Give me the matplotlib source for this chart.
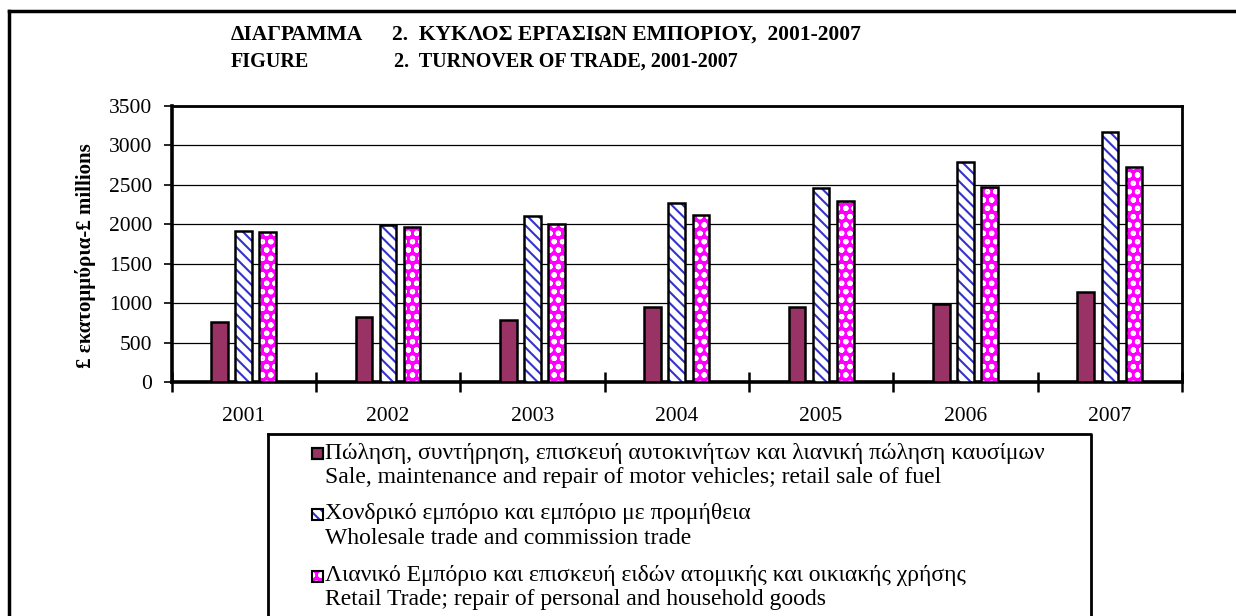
import numpy as np
import matplotlib
matplotlib.use("Agg")
import matplotlib.pyplot as plt
from matplotlib.patches import Rectangle
from matplotlib.lines import Line2D

plt.rcParams['font.family'] = ['Liberation Serif', 'DejaVu Serif']
plt.rcParams['hatch.linewidth'] = 1.5

# --- veriler ---
years = ["2001", "2002", "2003", "2004", "2005", "2006", "2007"]
motor = [767, 818, 780, 950, 950, 992, 1145]
wholesale = [1912, 1997, 2099, 2273, 2459, 2790, 3172]
retail = [1905, 1963, 2006, 2120, 2290, 2477, 2723]
yticks = [0, 500, 1000, 1500, 2000, 2500, 3000, 3500]

legend_lines = [
    ("Πώληση, συντήρηση, επισκευή αυτοκινήτων και λιανική πώληση καυσίμων",
     "Sale, maintenance and repair of motor vehicles; retail sale of fuel"),
    ("Χονδρικό εμπόριο και εμπόριο με προμήθεια",
     "Wholesale trade and commission trade"),
    ("Λιανικό Εμπόριο και επισκευή ειδών ατομικής και οικιακής χρήσης",
     "Retail Trade; repair of personal and household goods"),
]

W, H = 1236, 616
def fx(px):
    return px / W
def fy(py):
    return 1 - py / H

fig = plt.figure(figsize=(12.36, 6.16), dpi=100)
ax = fig.add_axes([fx(171.5), fy(382), fx(1182) - fx(171.5), fy(106) - fy(382)])

x = np.arange(len(years))
off = 0.167
w = 0.115

# seri 1: düz bordo
ax.bar(x - off, motor, w, color="#993366", edgecolor="black", lw=1.8, zorder=3)
# seri 2: mavi çizgili
ax.bar(x, wholesale, w, color="white", edgecolor="#3333cc", hatch="\\\\\\", lw=0, zorder=3)
ax.bar(x, wholesale, w, fill=False, edgecolor="black", lw=1.8, zorder=4)
# seri 3: pembe desenli
ax.bar(x + off, retail, w, color="#ff00ff", edgecolor="white", hatch="oo", lw=0, zorder=3)
ax.bar(x + off, retail, w, fill=False, edgecolor="black", lw=1.8, zorder=4)

ax.set_xlim(-0.5, len(years) - 0.5)
ax.set_ylim(0, 3500)
ax.set_yticks(yticks)
ax.set_yticklabels([str(v) for v in yticks], fontsize=15.5)
ax.set_xticks(x)
ax.set_xticklabels(years, fontsize=15.5)
ax.set_xticks(np.arange(-0.5, len(years)), minor=True)
ax.tick_params(axis="x", which="major", length=0, pad=18)
ax.tick_params(axis="x", which="minor", direction="inout", length=14, width=1.8)
ax.tick_params(axis="y", direction="out", length=6, width=1.2, pad=8)

ax.yaxis.grid(True, color="black", lw=0.9)
ax.set_axisbelow(True)
for side in ["left", "bottom"]:
    ax.spines[side].set_linewidth(2.6)
for side in ["top", "right"]:
    ax.spines[side].set_linewidth(2.0)

fig.text(fx(85), fy(256), "£ εκατομμύρια-£ millions", fontsize=15, fontweight="bold",
         rotation=90, ha="center", va="center")

# başlık
fig.text(fx(231), fy(35), "ΔΙΑΓΡΑΜΜΑ", fontsize=15.5, fontweight="bold", va="center")
fig.text(fx(392), fy(35), "2.  ΚΥΚΛΟΣ ΕΡΓΑΣΙΩΝ ΕΜΠΟΡΙΟΥ,  2001-2007", fontsize=15.5, fontweight="bold", va="center")
fig.text(fx(231), fy(62), "FIGURE", fontsize=14.5, fontweight="bold", va="center")
fig.text(fx(394), fy(62), "2.  TURNOVER OF TRADE, 2001-2007", fontsize=14.5, fontweight="bold", va="center")

# dış çerçeve
fig.add_artist(Line2D([fx(9), fx(9)], [fy(11), fy(640)], color="black", lw=2.5))
fig.add_artist(Line2D([fx(9), fx(1250)], [fy(11), fy(11)], color="black", lw=2.5))

# lejant kutusu
fig.add_artist(Line2D([fx(268), fx(1091), fx(1091)], [fy(434), fy(434), fy(640)], color="black", lw=2.0))
fig.add_artist(Line2D([fx(268), fx(268)], [fy(434), fy(640)], color="black", lw=2.0))

styles = [
    dict(facecolor="#993366", edgecolor="black", lw=1.5),
    dict(facecolor="white", edgecolor="#3333cc", hatch="\\\\\\", lw=0),
    dict(facecolor="#ff00ff", edgecolor="white", hatch="oo", lw=0),
]
rows = [453, 514, 576]
for (gr, en), st, ry in zip(legend_lines, styles, rows):
    fig.add_artist(Rectangle((fx(312), fy(ry + 5.5)), fx(11), 11 / H, transform=fig.transFigure, **st))
    fig.add_artist(Rectangle((fx(312), fy(ry + 5.5)), fx(11), 11 / H, transform=fig.transFigure,
                             fill=False, edgecolor="black", lw=1.5))
    fig.text(fx(325), fy(ry), gr, fontsize=17, va="center")
    fig.text(fx(325), fy(ry + 24), en, fontsize=17, va="center")

fig.savefig("out.png", dpi=100)
